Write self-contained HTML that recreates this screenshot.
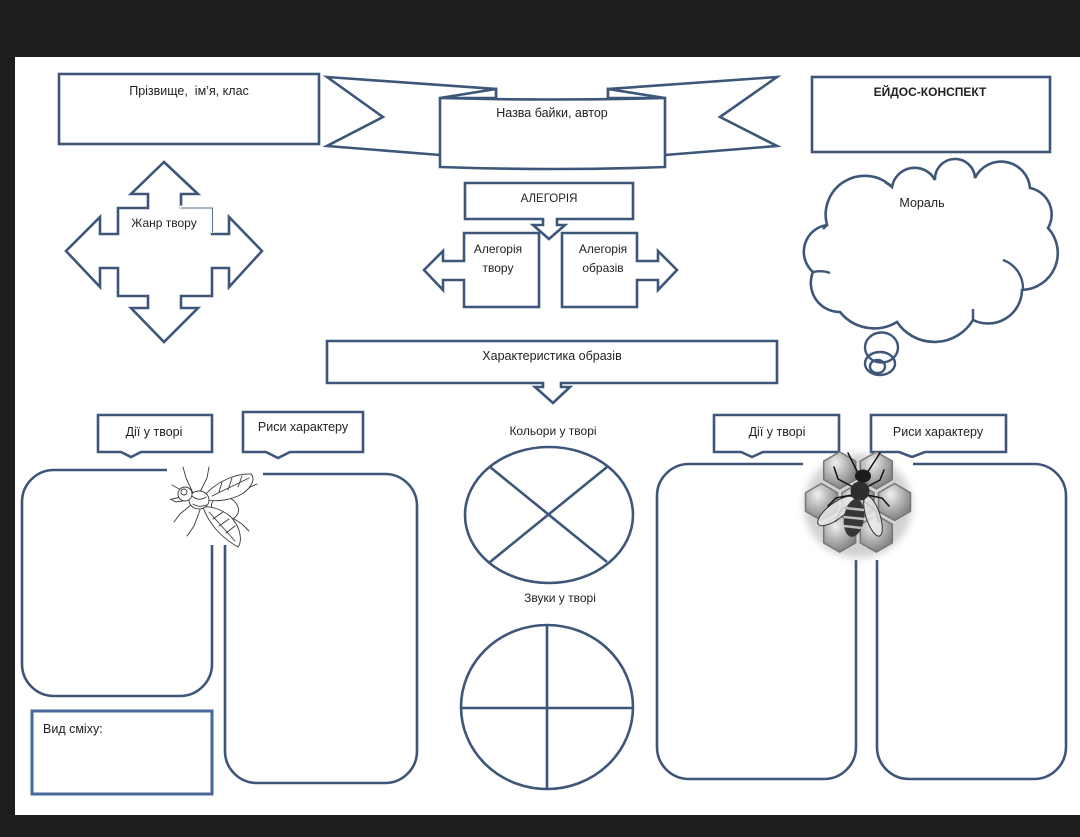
<!DOCTYPE html>
<html><head><meta charset="utf-8">
<style>
html,body{margin:0;padding:0;background:#1e1e1e;}
svg{display:block;}
text{font-family:"Liberation Sans","DejaVu Sans",sans-serif;fill:#222;}
</style></head>
<body>
<svg width="1080" height="837" viewBox="0 0 1080 837" xmlns="http://www.w3.org/2000/svg">
<defs>
<radialGradient id="hg" cx="38%" cy="30%" r="75%">
<stop offset="0" stop-color="#f0f0f0"/>
<stop offset="0.45" stop-color="#b8b8b8"/>
<stop offset="1" stop-color="#7a7a7a"/>
</radialGradient>
<filter id="bl" x="-30%" y="-30%" width="160%" height="160%"><feGaussianBlur stdDeviation="4"/></filter>
</defs>
<rect x="0" y="0" width="1080" height="837" fill="#1e1e1e"/>
<rect x="15" y="57" width="1065" height="758" fill="#ffffff"/>

<g fill="#fff" stroke="#3d5679" stroke-width="2.6" stroke-linejoin="miter">
<rect x="59" y="74" width="260" height="70"/>
<rect x="812" y="77" width="238" height="75"/>

<polygon points="327,77 496,89 496,155 440,155 327,146 383,117"/>
<polygon points="777,77 608,89 608,155 665,155 777,146 720,117"/>
<polygon points="440,98 496,89 496,98"/>
<polygon points="665,98 608,89 608,98"/>
<path d="M440 98 Q552 101 665 98 L665 167 Q552 171 440 167 Z"/>

<polygon points="164,162 198,194 181,194 181,208 212,208 212,234 229,234 229,217 262,251 229,287 229,268 212,268 212,296 181,296 181,308 198,308 164,342 131,308 148,308 148,296 118,296 118,268 100,268 100,287 66,251 100,217 100,234 118,234 118,208 148,208 148,194 131,194"/>

<path d="M465 183 H633 V219 H557 V225 H565 L549 239 L533 225 H543 V219 H465 Z"/>
<path d="M464 233 H539 V307 H464 V280 H443 V290 L424 270 L443 251 V261 H464 Z"/>
<path d="M562 233 H637 V261 H658 V251 L677 270 L658 290 V280 H637 V307 H562 Z"/>

<path d="M327 341 H777 V383 H561 V387 H570 L553 403 L535 387 H543 V383 H327 Z"/>

<ellipse cx="549" cy="515" rx="84" ry="68"/>
<ellipse cx="547" cy="707" rx="86" ry="82"/>

<path d="M98 415 H212 V452 H141 L131 457 L121 452 H98 Z"/>
<path d="M243 412 H363 V452 H290 L278 458 L266 452 H243 Z"/>
<path d="M714 415 H839 V452 H763 L752 457 L741 452 H714 Z"/>
<path d="M871 415 H1006 V452 H925 L912 457 L899 452 H871 Z"/>

<rect x="22" y="470" width="190" height="226" rx="32" ry="32"/>
<rect x="225" y="474" width="192" height="309" rx="32" ry="32"/>
<rect x="657" y="464" width="199" height="315" rx="32" ry="32"/>
<rect x="877" y="464" width="189" height="315" rx="32" ry="32"/>
</g>

<rect x="180" y="205.6" width="34" height="3.8" fill="#fff"/>
<rect x="210.6" y="206" width="3.8" height="27" fill="#fff"/>
<path d="M181 208 H212.5 V234" fill="none" stroke="#5a6f8c" stroke-width="1"/>

<g stroke="#3d5679" stroke-width="2.6" fill="none">
<line x1="490" y1="467" x2="607" y2="562"/>
<line x1="607" y1="467" x2="490" y2="562"/>
<line x1="547" y1="625" x2="547" y2="789"/>
<line x1="461" y1="708" x2="633" y2="708"/>
</g>

<rect x="32" y="711" width="180" height="83" fill="#fff" stroke="#47699a" stroke-width="3"/>

<path d="M827 225 A39 39 0 0 1 892 187 A23 23 0 0 1 935 180 A20 20 0 0 1 975 178 A29 29 0 0 1 1030 188 A27 27 0 0 1 1048 228 A37 37 0 0 1 1022 290 A34 34 0 0 1 973 320 A45 45 0 0 1 897 322 A44 44 0 0 1 840 312 A29 29 0 0 1 813 272 A27 27 0 0 1 827 225 Z" fill="#fff" stroke="#3d5679" stroke-width="2.6"/>
<g fill="none" stroke="#3d5679" stroke-width="2.4">
<path d="M1003 260 A30 30 0 0 1 1023 289"/>
<path d="M973 309 L973 320"/>
<path d="M813 272 Q822 270 830 273"/>
<path d="M885 182 L892 187"/>
<path d="M827 225 L823 229"/>
<ellipse cx="881.5" cy="347.5" rx="16.5" ry="15"/>
<ellipse cx="880" cy="363.5" rx="15" ry="11.5"/>
<ellipse cx="877.5" cy="366.5" rx="7.5" ry="6.5"/>
</g>

<rect x="167" y="460" width="96" height="85" fill="#fff"/>
<rect x="803" y="458" width="110" height="102" fill="#fff"/>

<!-- fly -->
<g stroke="#3a3a3a" stroke-width="0.9" fill="#fff" stroke-linecap="round">
<path d="M193 493 L186 478 L183 467" fill="none"/>
<path d="M200 492 L207 478 L209 467" fill="none"/>
<path d="M208 497 L244 490 L257 484" fill="none"/>
<path d="M188 500 L176 502 L170 499" fill="none"/>
<path d="M191 505 L180 514 L174 522" fill="none"/>
<path d="M200 510 L194 526 L187 536" fill="none"/>
<path d="M228 515 L242 524 L249 531" fill="none"/>
<path d="M181 490 L172 485" fill="none"/>
<path d="M181 497 L172 499" fill="none"/>
<ellipse cx="225" cy="508" rx="14" ry="11" transform="rotate(25 225 508)"/>
<path d="M203 507 C208 522 220 537 238 547 C243 540 240 526 230 516 C221 509 211 506 203 507 Z"/>
<path d="M209 512 L235 541 M213 519 L223 512 M219 526 L229 519 M226 533 L235 526" fill="none"/>
<path d="M205 495 C216 482 236 473 251 474 C256 479 251 490 238 496 C226 501 213 502 205 499 Z"/>
<path d="M212 496 L249 478 M219 492 L222 482 M228 490 L232 478 M238 487 L242 476" fill="none"/>
<ellipse cx="199" cy="500" rx="10" ry="9"/>
<path d="M192 496 Q199 502 206 497 M193 504 Q199 508 206 505" fill="none"/>
<ellipse cx="185" cy="494" rx="7" ry="7"/>
<circle cx="184" cy="492" r="3"/>
</g>

<!-- bee on honeycomb -->
<ellipse cx="858" cy="506" rx="54" ry="52" fill="#9a9a9a" opacity="0.45" filter="url(#bl)"/>
<g fill="url(#hg)" stroke="#777" stroke-width="1.5" stroke-linejoin="round">
<polygon transform="translate(839.7,470.4)" points="0,-18.5 16,-9.25 16,9.25 0,18.5 -16,9.25 -16,-9.25"/>
<polygon transform="translate(876.3,470.4)" points="0,-18.5 16,-9.25 16,9.25 0,18.5 -16,9.25 -16,-9.25"/>
<polygon transform="translate(821.5,502)" points="0,-18.5 16,-9.25 16,9.25 0,18.5 -16,9.25 -16,-9.25"/>
<polygon transform="translate(894.5,502)" points="0,-18.5 16,-9.25 16,9.25 0,18.5 -16,9.25 -16,-9.25"/>
<polygon transform="translate(839.7,533.6)" points="0,-18.5 16,-9.25 16,9.25 0,18.5 -16,9.25 -16,-9.25"/>
<polygon transform="translate(876.3,533.6)" points="0,-18.5 16,-9.25 16,9.25 0,18.5 -16,9.25 -16,-9.25"/>
<polygon transform="translate(858,502)" points="0,-18.5 16,-9.25 16,9.25 0,18.5 -16,9.25 -16,-9.25"/>
</g>
<g stroke="#111" stroke-width="1.5" fill="none" stroke-linecap="round">
<path d="M858 473 L848 453"/>
<path d="M867 473 L880 453"/>
<path d="M853 487 L838 479 L834 467"/>
<path d="M867 487 L880 480 L884 470"/>
<path d="M852 495 L836 498 L828 506"/>
<path d="M867 495 L882 498 L889 506"/>
<path d="M854 501 L841 510 L836 521"/>
<path d="M864 501 L876 511 L879 522"/>
</g>
<ellipse cx="836" cy="511" rx="22" ry="8" transform="rotate(-37 836 511)" fill="#e8e8e8" fill-opacity="0.85" stroke="#333" stroke-width="1"/>
<ellipse cx="873" cy="516" rx="21" ry="7" transform="rotate(72 873 516)" fill="#e8e8e8" fill-opacity="0.85" stroke="#333" stroke-width="1"/>
<ellipse cx="854" cy="518" rx="10" ry="19" transform="rotate(8 854 518)" fill="#363636"/>
<g stroke="#bdbdbd" stroke-width="2.4">
<line x1="845" y1="508" x2="864" y2="510"/>
<line x1="844" y1="517" x2="864" y2="519"/>
<line x1="844" y1="526" x2="862" y2="528"/>
</g>
<circle cx="860" cy="491" r="9.5" fill="#2e2e2e"/>
<ellipse cx="863" cy="476" rx="8" ry="6.5" fill="#1c1c1c"/>

<!-- texts -->
<text x="189" y="95" font-size="12.5" text-anchor="middle" style="white-space:pre">Прізвище,  ім’я, клас</text>
<text x="552" y="117" font-size="12.5" text-anchor="middle">Назва байки, автор</text>
<text x="930" y="96" font-size="12" font-weight="bold" text-anchor="middle">ЕЙДОС-КОНСПЕКТ</text>
<text x="164" y="227" font-size="12" text-anchor="middle">Жанр твору</text>
<text x="549" y="202" font-size="11.5" text-anchor="middle">АЛЕГОРІЯ</text>
<text x="498" y="253" font-size="12" text-anchor="middle">Алегорія</text>
<text x="498" y="272" font-size="12" text-anchor="middle">твору</text>
<text x="603" y="253" font-size="12" text-anchor="middle">Алегорія</text>
<text x="603" y="272" font-size="12" text-anchor="middle">образів</text>
<text x="922" y="207" font-size="12.5" text-anchor="middle">Мораль</text>
<text x="552" y="360" font-size="12.5" text-anchor="middle">Характеристика образів</text>
<text x="154" y="436" font-size="12.5" text-anchor="middle">Дії у творі</text>
<text x="303" y="431" font-size="12.5" text-anchor="middle">Риси характеру</text>
<text x="553" y="435" font-size="12" text-anchor="middle">Кольори у творі</text>
<text x="560" y="602" font-size="12" text-anchor="middle">Звуки у творі</text>
<text x="777" y="436" font-size="12.5" text-anchor="middle">Дії у творі</text>
<text x="938" y="436" font-size="12.5" text-anchor="middle">Риси характеру</text>
<text x="43" y="733" font-size="12.5">Вид сміху:</text>
</svg>
</body></html>
